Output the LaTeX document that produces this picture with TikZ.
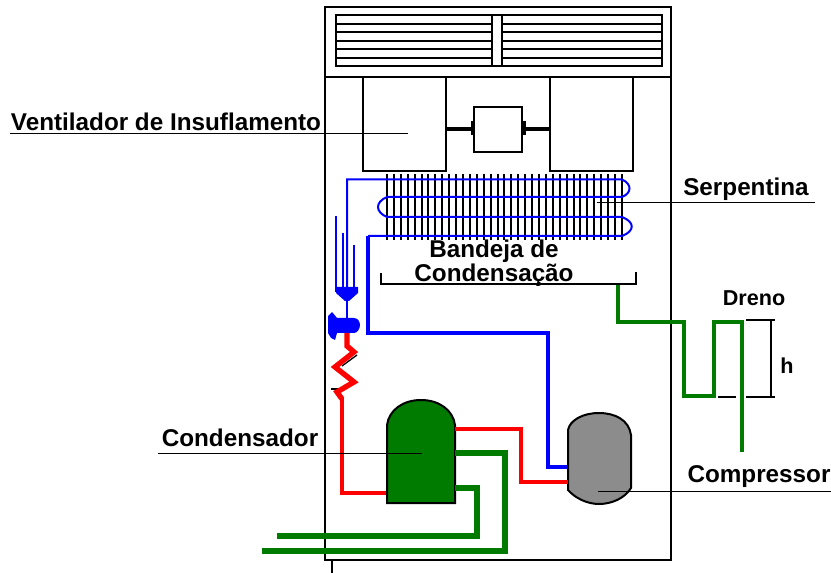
\documentclass[tikz,border=0pt]{standalone}
\usepackage{fontspec}
\setmainfont{Liberation Sans}
\tikzset{
  lab/.style={font=\bfseries\fontsize{18.2}{20}\selectfont,inner sep=0pt,anchor=center,text=black},
  labtwo/.style={font=\bfseries\fontsize{18.2}{16.5}\selectfont,inner sep=0pt,anchor=center,align=center,text=black},
  labs/.style={font=\bfseries\fontsize{16.2}{18}\selectfont,inner sep=0pt,anchor=center,text=black},
  edge/.style={draw=black,line width=1.5pt},
  leader/.style={draw=black,line width=0.75pt},
  red pipe/.style={draw=pred,line width=3.2pt,line join=miter},
  zig/.style={draw=pred,line width=4pt,line join=miter},
  blue pipe/.style={draw=pblue,line width=3.2pt},
  blue thin/.style={draw=pblue,line width=1.5pt},
  green pipe/.style={draw=pgreen,line width=4.7pt},
  drain/.style={draw=pgreen,line width=3.4pt},
}
\definecolor{pred}{RGB}{255,0,0}
\definecolor{pblue}{RGB}{0,0,255}
\definecolor{pgreen}{RGB}{0,123,0}
\definecolor{pgray}{RGB}{140,140,140}
\begin{document}
\begin{tikzpicture}[x=0.75pt,y=-0.75pt]
\useasboundingbox (0,0) rectangle (831,573);
% cabinet
\draw[edge] (325,560) -- (325,7) -- (671,7) -- (671,560) -- cycle;
\draw[edge] (332,560) -- (332,573);
\draw[edge] (325,77) -- (671,77);
% grille
\draw[edge] (336,15) rectangle (662,66);
\foreach \y in {24,41,58} \draw[draw=black,line width=1.9pt] (336,\y) -- (492,\y) (502,\y) -- (662,\y);
\foreach \y in {32,49} \draw[edge] (336,\y) -- (492,\y) (502,\y) -- (662,\y);
\draw[edge,fill=white] (492,15) rectangle (502,66);
% fan
\draw[edge] (363,77) rectangle (446,171);
\draw[edge] (550,77) rectangle (633,171);
\draw[edge] (474,107) rectangle (522,152);
\draw[draw=black,line width=3pt] (446,129) -- (474,129) (522,129) -- (550,129);
\draw[draw=black,line width=3pt] (472.5,121) -- (472.5,135) (523.5,121) -- (523.5,135);
% fins
\foreach \i in {0,...,34} {
  \pgfmathsetmacro{\fx}{round(387+\i*6.91)}
  \draw[draw=black,line width=1.5pt] (\fx,174) -- (\fx,240);
}
% coil
\draw[blue thin] (347,300) -- (347,179.5) -- (622,179.5)
  .. controls (632,184) and (632,193) .. (622,197) -- (387,197)
  .. controls (375,202) and (375,212) .. (387,217) -- (622,217)
  .. controls (635,222) and (635,231) .. (622,236) -- (368,236);
\draw[blue pipe] (368,236) -- (368,333) -- (548,333) -- (548,467) -- (568,467);
% distributor
\draw[blue thin] (336,216) -- (336,292) (343,233) -- (343,292) (354,245) -- (354,292);
\fill[pblue] (336,287) -- (358,287) -- (358,293) -- (349,301) -- (345,301) -- (336,293) -- cycle;
\draw[blue thin] (347,300) -- (347,320);
% expansion valve
\fill[pblue] (328,316) -- (332,312) -- (337,318) -- (354,318) .. controls (358,318) and (360,322) .. (360,325)
  .. controls (360,329) and (357,333) .. (354,333) -- (337,333) -- (335,340) -- (331,338) -- (328,333) -- cycle;
% capillary
\draw[black,line width=1pt] (331,389) -- (342,389);
\draw[black,line width=1pt] (342,366) -- (357,355);
\draw[zig] (347,333) -- (347,346) -- (354,352) -- (335,367) -- (354,382) -- (337,392) -- (342,399);
\draw[red pipe] (342,397) -- (342,493) -- (387,493);
% condenser
\draw[edge,fill=pgreen] (387,503) -- (387,425) .. controls (389,410) and (403,400) .. (421,400)
  .. controls (439,400) and (453,410) .. (455,425) -- (455,503) -- cycle;
% compressor
\draw[edge,fill=pgray] (568,430) .. controls (570,420) and (583,413) .. (599,413)
  .. controls (615,413) and (629,420) .. (631,435) -- (631,488)
  .. controls (625,498) and (612,504) .. (599,504)
  .. controls (587,504) and (575,498) .. (568,490) -- cycle;
% refrigerant
\draw[red pipe] (455,429) -- (521,429) -- (521,482) -- (568,482);
\draw[green pipe] (455,453) -- (505,453) -- (505,551) -- (262,551);
\draw[green pipe] (455,488) -- (477,488) -- (477,536) -- (277,536);
% tray
\draw[edge] (381,273) -- (381,284.5) -- (636,284.5) -- (636,272);
% drain
\draw[drain] (618,285) -- (618,322) -- (684,322) -- (684,396) -- (714,396) -- (714,322) -- (742,322) -- (742,452);
% h dimension
\draw[edge] (746,320.5) -- (775,320.5);
\draw[edge] (718,397) -- (736,397) (746,397) -- (775,397);
\draw[edge] (771,320.5) -- (771,397);
% leaders
\coordinate (l1a) at (10,134); \coordinate (l1b) at (408,134);
\coordinate (l2a) at (597,203); \coordinate (l2b) at (815,203);
\coordinate (l3a) at (158,453); \coordinate (l3b) at (422,453);
\coordinate (l4a) at (598,491); \coordinate (l4b) at (831,491);
\draw[leader] (l1a) -- (l1b);
\draw[leader] (l2a) -- (l2b);
\draw[leader] (l3a) -- (l3b);
\draw[leader] (l4a) -- (l4b);
% labels
\node[lab] (ventilador) at (166,122) {Ventilador de Insuflamento};
\node[lab] (serpentina) at (746,189) {Serpentina};
\node[labtwo] (bandeja) at (494,263) {Bandeja de\\Condensação};
\node[lab] (condensador) at (240,438) {Condensador};
\node[lab] (compressor) at (759,476.5) {Compressor};
\node[labs] (dreno) at (754,298) {Dreno};
\node[labs] (h) at (787,366) {h};
\end{tikzpicture}
\end{document}
